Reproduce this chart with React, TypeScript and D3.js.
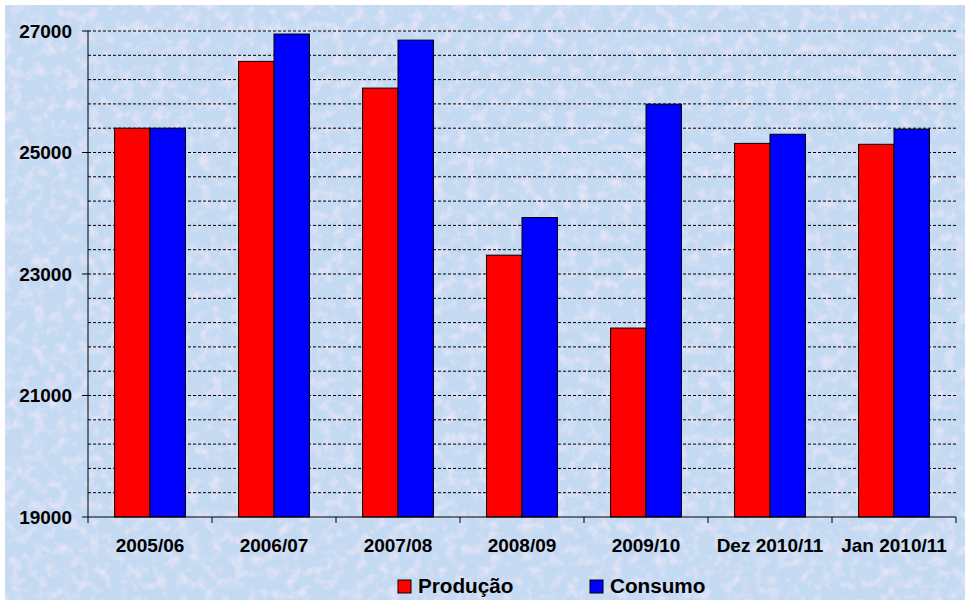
import React from "react";
import * as d3 from "d3";

const categories = ["2005/06", "2006/07", "2007/08", "2008/09", "2009/10", "Dez 2010/11", "Jan 2010/11"];
const producao = [25400, 26500, 26060, 23310, 22110, 25150, 25135];
const consumo = [25400, 26950, 26850, 23930, 25795, 25300, 25385];
const seriesNames = ["Produção", "Consumo"];
const seriesColors = ["#ff0000", "#0000ff"];
const yTickLabels = [19000, 21000, 23000, 25000, 27000];

const W = 970;
const H = 604;
const left = 88;
const right = 956;
const top = 31;
const bottom = 517;

export default function App() {
  const y = d3.scaleLinear().domain([19000, 27000]).range([bottom, top]);
  const x = d3.scaleBand<string>().domain(categories).range([left, right]).paddingInner(0).paddingOuter(0);
  const bw = x.bandwidth();
  const barW = bw / 3.5;
  const grid = d3.range(19400, 27001, 400);
  const font = "Arial, 'Liberation Sans', sans-serif";
  const series = [producao, consumo];

  return (
    <svg width={W} height={H} style={{ position: "absolute", left: 0, top: 0 }} fontFamily={font}>
      <defs>
        <filter id="tex" x="0" y="0" width="100%" height="100%">
          <feTurbulence type="fractalNoise" baseFrequency="0.09" numOctaves="3" seed="7" result="n" />
          <feColorMatrix
            in="n"
            type="matrix"
            values="0 0 0 0 0.88  0 0 0 0 0.80  0 0 0 0 0.94  0 0 0 2.6 -1.2"
          />
        </filter>
      </defs>
      <rect x={0} y={0} width={W} height={H} fill="#ffffff" />
      <rect x={5} y={5} width={960} height={595} fill="#c4daf2" />
      <rect x={5} y={5} width={960} height={595} filter="url(#tex)" opacity={0.75} />

      {grid.map((g) => (
        <line key={g} x1={left} x2={right} y1={y(g)} y2={y(g)} stroke="#000" strokeWidth={1} strokeDasharray="3,2" />
      ))}

      {categories.map((c, i) =>
        series.map((s, k) => (
          <rect
            key={c + k}
            x={(x(c) as number) + bw * 0.75 / 3.5 + k * barW}
            y={y(s[i])}
            width={barW}
            height={bottom - y(s[i])}
            fill={seriesColors[k]}
            stroke="#000"
            strokeWidth={1}
          />
        ))
      )}

      <line x1={left} x2={left} y1={top} y2={bottom} stroke="#000" strokeWidth={1} />
      <line x1={left} x2={right} y1={bottom} y2={bottom} stroke="#000" strokeWidth={1} />
      {yTickLabels.map((t) => (
        <g key={t}>
          <line x1={left - 6} x2={left} y1={y(t)} y2={y(t)} stroke="#000" />
          <text x={72} y={y(t)} dy="0.36em" textAnchor="end" fontSize={19} fontWeight="bold" fill="#000">
            {t}
          </text>
        </g>
      ))}
      {[...categories.map((c) => x(c) as number), right].map((v, i) => (
        <line key={i} x1={v} x2={v} y1={bottom} y2={bottom + 6} stroke="#000" />
      ))}
      {categories.map((c) => (
        <text key={c} x={(x(c) as number) + bw / 2} y={552} textAnchor="middle" fontSize={19} fontWeight="bold" fill="#000">
          {c}
        </text>
      ))}

      {seriesNames.map((n, k) => {
        const lx = [398, 590][k];
        return (
          <g key={n}>
            <rect x={lx} y={580} width={13} height={13} fill={seriesColors[k]} stroke="#000" strokeWidth={1} />
            <text x={lx + 20} y={593} fontSize={20.7} fontWeight="bold" fill="#000">
              {n}
            </text>
          </g>
        );
      })}
    </svg>
  );
}
